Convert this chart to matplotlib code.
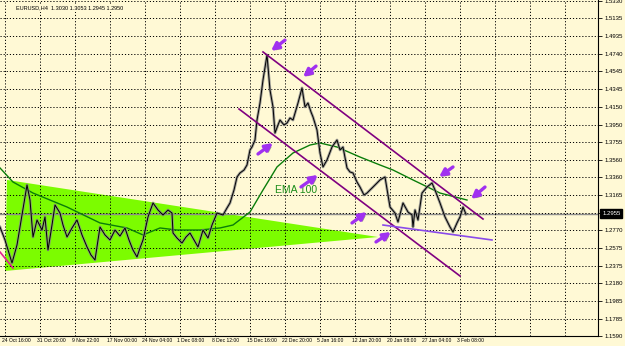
import matplotlib
matplotlib.use('Agg')
import matplotlib.pyplot as plt
import matplotlib.patheffects as pe
from matplotlib.patches import Polygon

# ---------------- data ----------------
bar_x = [0, 5, 12, 17, 22, 27, 30, 33, 37, 42, 45, 48, 52, 55, 60, 63, 67, 72, 77, 82,
         87, 91, 95, 100, 105, 110, 115, 120, 125, 129, 133, 137, 140, 143, 148, 153, 158,
         163, 168, 172, 173, 177, 182, 186, 190, 194, 198, 203, 208, 212, 217, 223, 227,
         230, 234, 237, 240, 244, 247, 250, 252, 255, 257, 260, 263, 267, 270, 273, 275,
         278, 280, 284, 287, 290, 293, 298, 302, 305, 308, 311, 313, 317, 320, 323, 327,
         332, 337, 340, 343, 347, 350, 353, 357, 360, 364, 367, 370, 373, 377, 380, 385,
         388, 390, 395, 398, 403, 408, 412, 413, 415, 418, 422, 427, 432, 435, 440, 445,
         450, 453, 457, 460, 463, 466]
close = [1.2807, 1.2662, 1.2405, 1.2606, 1.2941, 1.3276, 1.3108, 1.2695, 1.2885, 1.2773,
         1.2919, 1.2550, 1.2829, 1.3053, 1.2963, 1.2829, 1.2695, 1.2796, 1.2885, 1.2718,
         1.2584, 1.2494, 1.2439, 1.2807, 1.2718, 1.2662, 1.2773, 1.2706, 1.2796, 1.2662,
         1.2550, 1.2472, 1.2572, 1.2662, 1.2919, 1.3075, 1.2997, 1.2941, 1.2997, 1.2963,
         1.2740, 1.2684, 1.2628, 1.2695, 1.2740, 1.2662, 1.2584, 1.2773, 1.2684, 1.2829,
         1.2963, 1.2941, 1.3019, 1.3075, 1.3220, 1.3365, 1.3410, 1.3443, 1.3499, 1.3667,
         1.3700, 1.3778, 1.4001, 1.4191, 1.4448, 1.4727, 1.4336, 1.4147, 1.3856, 1.3946,
         1.4001, 1.3946, 1.3968, 1.4024, 1.4001, 1.4191, 1.4359, 1.4147, 1.4191, 1.4091,
         1.4035, 1.3890, 1.3633, 1.3477, 1.3555, 1.3700, 1.3778, 1.3667, 1.3700, 1.3466,
         1.3421, 1.3410, 1.3309, 1.3253, 1.3164, 1.3186, 1.3220, 1.3253, 1.3298, 1.3332,
         1.3365, 1.3164, 1.3030, 1.2963, 1.2863, 1.3075, 1.2974, 1.2941, 1.2807, 1.2997,
         1.2885, 1.3186, 1.3253, 1.3298, 1.3220, 1.3075, 1.2919, 1.2807, 1.2751, 1.2852,
         1.2919, 1.3030, 1.2950]

ema_x = [0, 13, 33, 67, 100, 127, 143, 160, 177, 200, 220, 233, 250, 263, 277, 293, 310,
         320, 337, 360, 380, 393, 413, 440, 467]
ema100 = [1.3466, 1.3309, 1.3186, 1.3030, 1.2852, 1.2796, 1.2718, 1.2796, 1.2773, 1.2773,
          1.2796, 1.2829, 1.2974, 1.3220, 1.3477, 1.3633, 1.3722, 1.3745, 1.3700, 1.3588,
          1.3499, 1.3443, 1.3332, 1.3186, 1.3108]

triangle_x = [7, 5, 378]
triangle_p = [1.3332, 1.2316, 1.2695]

upper_line_x = [263, 483]
upper_line_p = [1.4761, 1.2896]
lower_line_x = [239, 460]
lower_line_p = [1.4124, 1.2260]
support_x = [383, 492]
support_p = [1.2829, 1.2662]
pink_x = [0, 13]
pink_p = [1.2528, 1.2349]

arrow_tail_x = [285, 316, 258, 301, 352, 376, 453, 485]
arrow_tail_p = [1.4893, 1.4603, 1.3622, 1.3254, 1.2852, 1.2640, 1.3477, 1.3253]
arrow_tip_x = [271, 303, 273, 318, 367, 391, 439, 471]
arrow_tip_p = [1.4772, 1.4481, 1.3745, 1.3388, 1.2974, 1.2751, 1.3365, 1.3119]

price_ticks = [1.5330, 1.5135, 1.4935, 1.4740, 1.4545, 1.4345, 1.4150, 1.3950, 1.3755,
               1.3560, 1.3360, 1.3165, 1.2965, 1.2770, 1.2575, 1.2375, 1.2180, 1.1985,
               1.1785, 1.1590]
price_tick_labels = ['1.5330', '1.5135', '1.4935', '1.4740', '1.4545', '1.4345', '1.4150',
                     '1.3950', '1.3755', '1.3560', '1.3360', '1.3165', '', '1.2770',
                     '1.2575', '1.2375', '1.2180', '1.1985', '1.1785', '1.1590']
time_ticks = [5, 40, 75, 110, 145, 180, 215, 250, 285, 320, 355, 390, 425, 460, 495, 530, 565]
time_labels = ['24 Oct 16:00', '31 Oct 20:00', '9 Nov 22:00', '17 Nov 00:00',
               '24 Nov 04:00', '1 Dec 08:00', '8 Dec 12:00', '15 Dec 16:00',
               '22 Dec 20:00', '5 Jan 16:00', '12 Jan 20:00', '20 Jan 08:00',
               '27 Jan 04:00', '3 Feb 08:00', '', '', '']
current_price = 1.2955
title_text = 'EURUSD,H4  1.3030 1.3053 1.2945 1.2950'

# ---------------- figure ----------------
BG = '#FFF9D5'
FONT = ['Liberation Sans', 'DejaVu Sans']
W, H = 625, 346
fig = plt.figure(figsize=(W / 100, H / 100), dpi=100)
fig.patch.set_facecolor(BG)
ax = fig.add_axes([0, 10 / H, 598 / W, 336 / H])
ax.set_facecolor(BG)
ax.set_xlim(0, 598)
ax.set_ylim(1.1590, 1.5341)

# triangle
tri = Polygon(list(zip(triangle_x, triangle_p)), closed=True, facecolor='#7CFC00',
              edgecolor='none', zorder=1)
ax.add_patch(tri)

# grid
ax.set_xticks(time_ticks)
ax.set_yticks(price_ticks)
ax.grid(True, color='black', linestyle=(0, (1.2, 2.0)), linewidth=0.7, zorder=1.5)
ax.set_axisbelow(False)

# current price line
ax.axhline(current_price, color='#8c8c8c', lw=1.0, zorder=1.6)

# EMA
ax.plot(ema_x, ema100, color='#0a7d0a', lw=1.0, zorder=3)

# price
ax.plot(bar_x, close, color='#8a8a8a', lw=2.0, alpha=0.8, zorder=4)
ax.plot(bar_x, close, color='black', lw=0.7, zorder=5)

# trend lines
ax.plot(upper_line_x, upper_line_p, color='#800080', lw=1.2, zorder=6)
ax.plot(lower_line_x, lower_line_p, color='#800080', lw=1.2, zorder=6)
ax.plot(support_x, support_p, color='#8A4BEA', lw=1.2, zorder=6)
ax.plot(pink_x, pink_p, color='#E0208F', lw=1.2, zorder=6)

# arrows
for tx, tp, hx, hp in zip(arrow_tail_x, arrow_tail_p, arrow_tip_x, arrow_tip_p):
    ax.annotate('', xy=(hx, hp), xytext=(tx, tp),
                arrowprops=dict(arrowstyle='-|>', color='#A030F0', lw=2.4,
                                mutation_scale=11, shrinkA=0, shrinkB=0,
                                path_effects=[pe.SimplePatchShadow(offset=(1.2, -1.2),
                                                                   shadow_rgbFace='#555555',
                                                                   alpha=0.6),
                                              pe.Normal()]),
                zorder=8)

# EMA label
ax.text(296, 1.3220, 'EMA 100', color='#1a8c1a', fontsize=7.5, family=FONT,
        ha='center', va='center', zorder=7)

# axes styling
for s in ['left', 'top']:
    ax.spines[s].set_visible(False)
ax.spines['right'].set_color('black')
ax.spines['right'].set_linewidth(0.8)
ax.spines['bottom'].set_color('black')
ax.spines['bottom'].set_linewidth(0.8)
ax.yaxis.tick_right()
ax.set_yticklabels(price_tick_labels, fontsize=4.3, family=FONT)
ax.tick_params(axis='y', direction='out', length=3, width=0.6, pad=2, colors='black')
ax.tick_params(axis='x', length=0, labelbottom=False)

# time labels
for xt, lab in zip(time_ticks, time_labels):
    if lab:
        ax.annotate(lab, xy=(xt, 0), xycoords=('data', 'axes fraction'),
                    xytext=(-2.5, -1.2), textcoords='offset points', ha='left', va='top',
                    fontsize=3.6, family=FONT, color='black', annotation_clip=False)

# current price box
ax.annotate(f'{current_price:.4f}', xy=(1, current_price),
            xycoords=('axes fraction', 'data'), xytext=(3, 0), textcoords='offset points',
            ha='left', va='center', fontsize=4.3, family=FONT, color='white',
            bbox=dict(boxstyle='square,pad=0.3', facecolor='black', edgecolor='black'),
            annotation_clip=False, zorder=10)

# title
ax.text(16, 1.5341 - 0.0090, title_text, fontsize=4.0, family=FONT, color='black',
        ha='left', va='center', zorder=9,
        bbox=dict(boxstyle='square,pad=0.3', facecolor=BG, edgecolor='none'))

fig.savefig('out.png', dpi=100, facecolor=BG)
